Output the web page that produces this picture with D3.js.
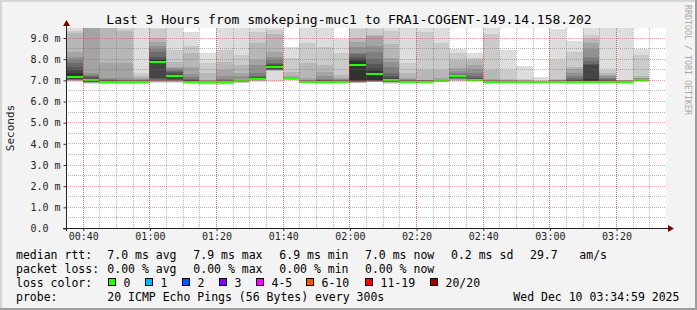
<!DOCTYPE html>
<html>
<head>
<meta charset="utf-8">
<script src="https://cdn.jsdelivr.net/npm/d3@7"></script>
<style>
  body { margin: 0; background: #fff; }
  svg { display: block; font-family: 'DejaVu Sans Mono', monospace; }
  text { white-space: pre; }
</style>
</head>
<body>
<svg id="svg" width="697" height="310"></svg>
<script>
/* DATA */
var day = '2025-12-10';
var rangeStart = '00:34:59';
var rangeEnd = '03:34:59';

// start of every 5 minute step
var steps = ['00:35','00:40','00:45','00:50','00:55','01:00','01:05','01:10','01:15','01:20',
             '01:25','01:30','01:35','01:40','01:45','01:50','01:55','02:00','02:05','02:10',
             '02:15','02:20','02:25','02:30','02:35','02:40','02:45','02:50','02:55','03:00',
             '03:05','03:10','03:15','03:20','03:25'];

var medians = [7.15, 6.97, 6.91, 6.91, 6.91, 7.86, 7.16, 6.92, 6.89, 6.92,
               6.98, 7.06, 7.62, 7.10, 6.90, 6.91, 6.91, 7.70, 7.30, 6.97,
               6.91, 6.92, 6.97, 7.18, 7.00, 6.91, 6.89, 6.89, 6.92, 6.92,
               6.92, 6.91, 6.91, 6.91, 6.98];

var loss = [0,0,0,0,0,0,0,0,0,0,0,0,0,0,0,0,0,0,0,0,0,0,0,0,0,0,0,0,0,0,0,0,0,0,0];

// 20 sorted ping rtts (ms) per step
var pings = [
  [6.92,6.94,6.96,6.97,6.98,6.99,7.00,7.02,7.05,7.10,7.31,7.47,7.63,7.78,7.94,8.09,8.33,9.20,9.30,9.45],
  [6.80,6.84,6.86,6.87,6.88,6.89,6.90,6.92,6.93,6.95,7.00,7.05,7.12,7.20,7.25,7.31,9.60,9.90,10.30,11.00],
  [6.80,6.82,6.83,6.84,6.85,6.86,6.87,6.88,6.89,6.90,6.93,6.95,6.97,7.00,7.05,7.10,7.80,9.70,10.20,11.00],
  [6.80,6.82,6.83,6.84,6.85,6.86,6.87,6.88,6.89,6.90,6.92,6.93,6.95,6.97,7.00,7.08,7.78,9.30,9.42,9.80],
  [6.82,6.84,6.85,6.86,6.87,6.88,6.89,6.90,6.90,6.90,6.92,6.93,6.95,6.97,7.00,7.05,7.10,7.20,7.31,9.70],
  [6.87,6.89,6.90,6.92,6.93,6.95,6.98,7.02,7.10,7.82,7.92,8.00,8.10,8.31,8.47,8.62,8.78,9.00,9.41,9.60],
  [6.87,6.89,6.90,6.92,6.93,6.95,6.97,7.00,7.05,7.13,7.23,7.30,7.36,7.42,7.47,7.55,7.63,7.86,8.41,9.60],
  [6.82,6.83,6.84,6.85,6.86,6.87,6.88,6.89,6.90,6.91,6.95,6.97,7.00,7.05,7.15,7.30,7.63,8.25,8.62,9.25],
  [6.77,6.80,6.82,6.83,6.84,6.85,6.86,6.87,6.88,6.89,6.90,6.91,6.92,6.94,6.95,6.97,7.00,7.31,7.78,8.25],
  [6.77,6.80,6.82,6.84,6.85,6.86,6.87,6.88,6.90,6.91,6.93,6.94,6.96,7.00,7.05,7.16,7.47,7.86,8.41,9.60],
  [6.84,6.86,6.88,6.90,6.92,6.93,6.94,6.95,6.96,6.97,6.99,7.00,7.01,7.02,7.03,7.20,7.31,7.70,8.17,9.60],
  [6.92,6.94,6.96,6.98,7.00,7.01,7.02,7.03,7.04,7.05,7.08,7.10,7.13,7.20,7.31,7.70,7.94,8.72,9.25,9.70],
  [6.92,7.40,7.43,7.45,7.46,7.47,7.48,7.49,7.50,7.60,7.66,7.70,7.75,7.81,7.95,8.09,8.33,9.19,9.35,9.90],
  [6.97,6.99,7.00,7.02,7.03,7.04,7.05,7.06,7.07,7.09,7.10,7.10,7.11,7.12,7.13,7.15,7.19,7.39,8.02,8.56],
  [6.84,6.86,6.87,6.88,6.89,6.90,6.90,6.91,6.91,6.92,6.93,6.94,6.95,6.96,6.98,7.00,7.08,7.78,8.72,9.60],
  [6.81,6.84,6.86,6.87,6.88,6.89,6.90,6.90,6.91,6.92,6.93,6.95,6.97,7.00,7.05,7.20,7.35,7.70,8.56,9.60],
  [6.84,6.86,6.87,6.88,6.89,6.90,6.90,6.91,6.91,6.92,6.93,6.94,6.96,6.98,7.00,7.03,7.10,7.23,8.25,8.95],
  [6.84,6.86,6.87,6.88,6.89,6.90,6.91,6.93,6.95,6.97,7.90,8.00,8.10,8.20,8.27,8.55,8.80,9.00,9.40,9.70],
  [6.88,6.89,6.90,6.91,6.92,6.93,6.94,6.95,6.97,7.00,7.42,7.55,7.75,8.00,8.30,8.60,9.08,9.12,9.42,9.70],
  [6.81,6.84,6.86,6.88,6.90,6.91,6.92,6.93,6.94,6.95,7.03,7.10,7.20,7.31,7.60,7.86,8.05,8.70,9.30,9.60],
  [6.84,6.86,6.87,6.88,6.89,6.90,6.90,6.91,6.91,6.92,6.93,6.94,6.96,6.98,7.00,7.03,7.08,7.31,7.78,9.60],
  [6.88,6.89,6.90,6.90,6.91,6.91,6.92,6.92,6.93,6.93,6.94,6.95,6.96,6.97,6.98,6.99,7.00,7.47,9.27,9.60],
  [6.88,6.90,6.91,6.92,6.93,6.94,6.95,6.96,6.96,6.97,6.98,6.99,7.00,7.02,7.04,7.06,7.08,7.47,8.72,9.60],
  [6.92,6.95,6.98,7.00,7.03,7.05,7.08,7.10,7.12,7.16,7.19,7.20,7.22,7.25,7.31,7.40,7.55,7.94,8.25,8.48],
  [6.91,6.93,6.94,6.95,6.96,6.97,6.97,6.98,6.98,6.99,7.02,7.05,7.08,7.20,7.31,7.50,7.70,7.95,8.02,8.25],
  [6.81,6.84,6.86,6.87,6.88,6.89,6.90,6.90,6.91,6.91,6.92,6.93,6.94,6.96,6.98,7.00,7.03,7.47,9.19,9.60],
  [6.84,6.85,6.86,6.87,6.88,6.88,6.89,6.89,6.89,6.90,6.90,6.91,6.92,6.93,6.95,6.98,7.00,7.03,7.47,8.41],
  [6.84,6.85,6.86,6.87,6.88,6.88,6.89,6.89,6.89,6.90,6.90,6.91,6.92,6.93,6.94,6.96,6.98,7.00,7.03,7.66],
  [6.88,6.89,6.90,6.90,6.91,6.91,6.92,6.92,6.92,6.92,6.93,6.93,6.94,6.94,6.95,6.95,6.96,6.96,6.97,7.13],
  [6.88,6.89,6.90,6.90,6.91,6.91,6.92,6.92,6.92,6.92,6.93,6.94,6.95,6.96,6.97,6.98,7.00,7.03,7.94,9.42],
  [6.81,6.84,6.86,6.88,6.89,6.90,6.91,6.92,6.92,6.93,6.95,6.97,7.00,7.10,7.20,7.31,7.50,7.63,8.33,8.84],
  [6.84,6.86,6.87,6.88,6.89,6.90,6.91,6.92,6.93,6.95,7.05,7.68,7.75,7.90,8.10,8.45,8.75,8.95,9.10,9.60],
  [6.84,6.86,6.87,6.88,6.89,6.90,6.90,6.91,6.91,6.92,6.93,6.95,6.98,7.02,7.08,7.20,7.25,7.31,7.47,9.60],
  [6.81,6.84,6.86,6.87,6.88,6.89,6.90,6.90,6.91,6.91,6.92,6.93,6.94,6.95,6.96,6.97,6.98,6.99,7.00,9.60],
  [6.91,6.92,6.93,6.94,6.95,6.96,6.96,6.97,6.97,6.98,6.99,7.00,7.01,7.02,7.03,7.07,7.10,7.16,8.17,8.48]
];

var lossLabels = ['0', '1', '2', '3', '4-5', '6-10', '11-19', '20/20'];
var lossLimits = [0, 1, 2, 3, 5, 10, 19, 20];
var lossColors = ['#26ff00', '#00b8ff', '#0059ff', '#7e00ff', '#ff00ff', '#ff5500', '#ff0000', '#a00000'];

var rttStats = ['7.0 ms avg', '7.9 ms max', '6.9 ms min', '7.0 ms now', '0.2 ms sd', '29.7', 'am/s'];
var lossStats = ['0.00 % avg', '0.00 % max', '0.00 % min', '0.00 % now'];

var title = 'Last 3 Hours from smokeping-muc1 to FRA1-COGENT-149.14.158.202';
var probeText = '20 ICMP Echo Pings (56 Bytes) every 300s';
var stampText = 'Wed Dec 10 03:34:59 2025';

/* CHART */
var CHART = (function() {
  let chart = {};
  let svg = d3.select('svg');
  let W = 697, H = 310;
  let plot = {left: 66, right: 666, top: 28, bottom: 228};

  let parseSec = d3.timeParse('%Y-%m-%d %H:%M:%S');
  let parseMin = d3.timeParse('%Y-%m-%d %H:%M');

  let x = d3.scaleTime()
    .domain([parseSec(day + ' ' + rangeStart), parseSec(day + ' ' + rangeEnd)])
    .range([plot.left, plot.right]);
  let y = d3.scaleLinear().domain([0, 9.45]).range([plot.bottom, plot.top]);

  function lossColor(l) {
    for (var i = 0; i < lossLimits.length; i++) {
      if (l <= lossLimits[i]) return lossColors[i];
    }
    return lossColors[lossColors.length - 1];
  }

  function grey(k) {
    var c = Math.floor(190 / 10 * (10 - k)) + 50;
    return d3.rgb(c, c, c).toString();
  }

  chart.frame = function() {
    svg.append('rect').attr('width', W).attr('height', H).attr('fill', '#f3f3f3');
    svg.append('rect').attr('x', 0).attr('y', 0).attr('width', W).attr('height', 2).attr('fill', '#d6d6d6');
    svg.append('rect').attr('x', 0).attr('y', 0).attr('width', 2).attr('height', H).attr('fill', '#d6d6d6');
    svg.append('rect').attr('x', 0).attr('y', H - 2).attr('width', W).attr('height', 2).attr('fill', '#9e9e9e');
    svg.append('rect').attr('x', W - 2).attr('y', 0).attr('width', 2).attr('height', H).attr('fill', '#9e9e9e');
    svg.append('rect')
      .attr('x', plot.left).attr('y', plot.top)
      .attr('width', plot.right - plot.left).attr('height', plot.bottom - plot.top)
      .attr('fill', '#ffffff');
  };

  chart.smoke = function() {
    svg.append('clipPath').attr('id', 'clip')
      .append('rect')
      .attr('x', plot.left).attr('y', plot.top)
      .attr('width', plot.right - plot.left).attr('height', plot.bottom - plot.top);

    var data = steps.map(function(s, i) {
      var t = parseMin(day + ' ' + s);
      return {t0: t, t1: d3.timeMinute.offset(t, 5), p: pings[i], med: medians[i], loss: loss[i]};
    });

    var g = svg.append('g').attr('clip-path', 'url(#clip)').attr('shape-rendering', 'crispEdges');
    var cols = g.selectAll('g.col').data(data).enter().append('g').attr('class', 'col');

    // outer band first, darker bands over it
    cols.each(function(d) {
      var col = d3.select(this);
      var x0 = x(d.t0), x1 = x(d.t1);
      for (var k = 1; k <= 10; k++) {
        var lo = d.p[k - 1], hi = d.p[20 - k];
        col.append('rect')
          .attr('x', x0).attr('width', x1 - x0)
          .attr('y', y(hi)).attr('height', Math.max(0, y(lo) - y(hi)))
          .attr('fill', grey(k));
      }
    });

    cols.append('rect')
      .attr('x', function(d) { return x(d.t0); })
      .attr('width', function(d) { return x(d.t1) - x(d.t0); })
      .attr('y', function(d) { return Math.round(y(d.med)) - 1; })
      .attr('height', 2)
      .attr('fill', function(d) { return lossColor(d.loss); });
  };

  chart.grid = function() {
    var g = svg.append('g').attr('shape-rendering', 'crispEdges');
    var dom = x.domain();
    var minorT = d3.timeMinute.every(5).range(dom[0], dom[1]);
    var majorT = d3.timeMinute.every(20).range(dom[0], dom[1]);
    var majorV = d3.range(1, 10, 1);
    var minorV = d3.range(0.5, 9.5, 1);
    var minorC = 'rgba(110,110,110,0.5)';
    var majorC = 'rgba(235,40,40,0.45)';

    g.selectAll('line.vmin').data(minorT).enter().append('line')
      .attr('x1', function(d) { return Math.round(x(d)) + 0.5; })
      .attr('x2', function(d) { return Math.round(x(d)) + 0.5; })
      .attr('y1', plot.top).attr('y2', plot.bottom)
      .attr('stroke', minorC).attr('stroke-dasharray', '1,1');
    g.selectAll('line.hmin').data(minorV).enter().append('line')
      .attr('x1', plot.left).attr('x2', plot.right)
      .attr('y1', function(d) { return Math.round(y(d)) + 0.5; })
      .attr('y2', function(d) { return Math.round(y(d)) + 0.5; })
      .attr('stroke', minorC).attr('stroke-dasharray', '1,1');
    g.selectAll('line.vmaj').data(majorT).enter().append('line')
      .attr('x1', function(d) { return Math.round(x(d)) + 0.5; })
      .attr('x2', function(d) { return Math.round(x(d)) + 0.5; })
      .attr('y1', plot.top).attr('y2', plot.bottom)
      .attr('stroke', majorC).attr('stroke-dasharray', '1,1');
    g.selectAll('line.hmaj').data(majorV).enter().append('line')
      .attr('x1', plot.left).attr('x2', plot.right)
      .attr('y1', function(d) { return Math.round(y(d)) + 0.5; })
      .attr('y2', function(d) { return Math.round(y(d)) + 0.5; })
      .attr('stroke', majorC).attr('stroke-dasharray', '1,1');
  };

  chart.axes = function() {
    var xa = d3.axisBottom(x)
      .ticks(d3.timeMinute.every(20))
      .tickFormat(d3.timeFormat('%H:%M'))
      .tickSize(3).tickSizeOuter(0).tickPadding(2);
    var gx = svg.append('g').attr('transform', 'translate(0.5,' + plot.bottom + ')').call(xa);
    gx.select('.domain').remove();
    gx.selectAll('line').attr('stroke', '#333');
    gx.selectAll('text').attr('font-family', 'DejaVu Sans Mono').attr('font-size', 10).attr('fill', '#222');

    var ya = d3.axisLeft(y)
      .tickValues(d3.range(0, 10, 1))
      .tickFormat(function(d) { return d === 0 ? '0.0' : d3.format('.1f')(d) + ' m'; })
      .tickSize(3).tickSizeOuter(0);
    var gy = svg.append('g').attr('transform', 'translate(' + (plot.left + 0.5) + ',0.5)').call(ya);
    gy.select('.domain').remove();
    gy.selectAll('line').attr('stroke', '#333');
    gy.selectAll('text')
      .attr('font-family', 'DejaVu Sans Mono').attr('font-size', 10).attr('fill', '#222')
      .attr('text-anchor', 'start').attr('x', -36);

    // axis lines with arrows
    svg.append('line')
      .attr('x1', plot.left - 3).attr('x2', plot.right + 3)
      .attr('y1', plot.bottom + 0.5).attr('y2', plot.bottom + 0.5)
      .attr('stroke', '#222');
    svg.append('line')
      .attr('x1', plot.left + 0.5).attr('x2', plot.left + 0.5)
      .attr('y1', plot.bottom + 3).attr('y2', plot.top - 4)
      .attr('stroke', '#222');
    svg.append('path')
      .attr('d', 'M' + (plot.right + 2) + ',' + (plot.bottom - 3) + 'L' + (plot.right + 8) + ',' + (plot.bottom + 0.5) + 'L' + (plot.right + 2) + ',' + (plot.bottom + 4) + 'Z')
      .attr('fill', '#800000');
    svg.append('path')
      .attr('d', 'M' + (plot.left - 3) + ',' + (plot.top - 2) + 'L' + (plot.left + 0.5) + ',' + (plot.top - 8) + 'L' + (plot.left + 4) + ',' + (plot.top - 2) + 'Z')
      .attr('fill', '#800000');

    svg.append('text')
      .attr('transform', 'translate(14,' + ((plot.top + plot.bottom) / 2) + ') rotate(-90)')
      .attr('text-anchor', 'middle')
      .attr('font-size', 11).attr('fill', '#222')
      .text('Seconds');
  };

  chart.texts = function() {
    svg.append('text')
      .attr('x', 349).attr('y', 24)
      .attr('text-anchor', 'middle')
      .attr('font-size', 13).attr('fill', '#000')
      .text(title);

    svg.append('text')
      .attr('transform', 'translate(685,5) rotate(90)')
      .attr('font-size', 8.3).attr('fill', '#a8a8a8')
      .text('RRDTOOL / TOBI OETIKER');
  };

  chart.legend = function() {
    var fs = 11.5;
    var rows = [258.5, 272.5, 286.5, 300.5];
    var statX = [107.3, 193.3, 279.3, 365, 451, 530, 579.3];
    var g = svg.append('g').attr('font-size', fs).attr('fill', '#000');

    g.append('text').attr('x', 16).attr('y', rows[0]).text('median rtt:');
    g.selectAll('text.rtt').data(rttStats).enter().append('text')
      .attr('x', function(d, i) { return statX[i]; }).attr('y', rows[0])
      .text(function(d) { return d; });

    g.append('text').attr('x', 16).attr('y', rows[1]).text('packet loss:');
    g.selectAll('text.loss').data(lossStats).enter().append('text')
      .attr('x', function(d, i) { return statX[i]; }).attr('y', rows[1])
      .text(function(d) { return d; });

    g.append('text').attr('x', 16).attr('y', rows[2]).text('loss color:');
    var boxX = [108.5, 145.5, 182.5, 219.5, 256.5, 306.5, 365.5, 430.5];
    var items = g.selectAll('g.lc').data(lossLabels).enter().append('g');
    items.append('rect')
      .attr('x', function(d, i) { return boxX[i]; }).attr('y', 278.5)
      .attr('width', 7).attr('height', 7)
      .attr('fill', function(d, i) { return lossColors[i]; })
      .attr('stroke', '#000');
    items.append('text')
      .attr('x', function(d, i) { return boxX[i] + 15; }).attr('y', rows[2])
      .text(function(d) { return d; });

    g.append('text').attr('x', 16).attr('y', rows[3]).text('probe:');
    g.append('text').attr('x', 107.3).attr('y', rows[3]).text(probeText);
    g.append('text').attr('x', 513.3).attr('y', rows[3]).text(stampText);
  };

  chart.init = function() {
    chart.frame();
    chart.smoke();
    chart.grid();
    chart.axes();
    chart.texts();
    chart.legend();
  };

  return chart;
})();

CHART.init();
</script>
</body>
</html>
